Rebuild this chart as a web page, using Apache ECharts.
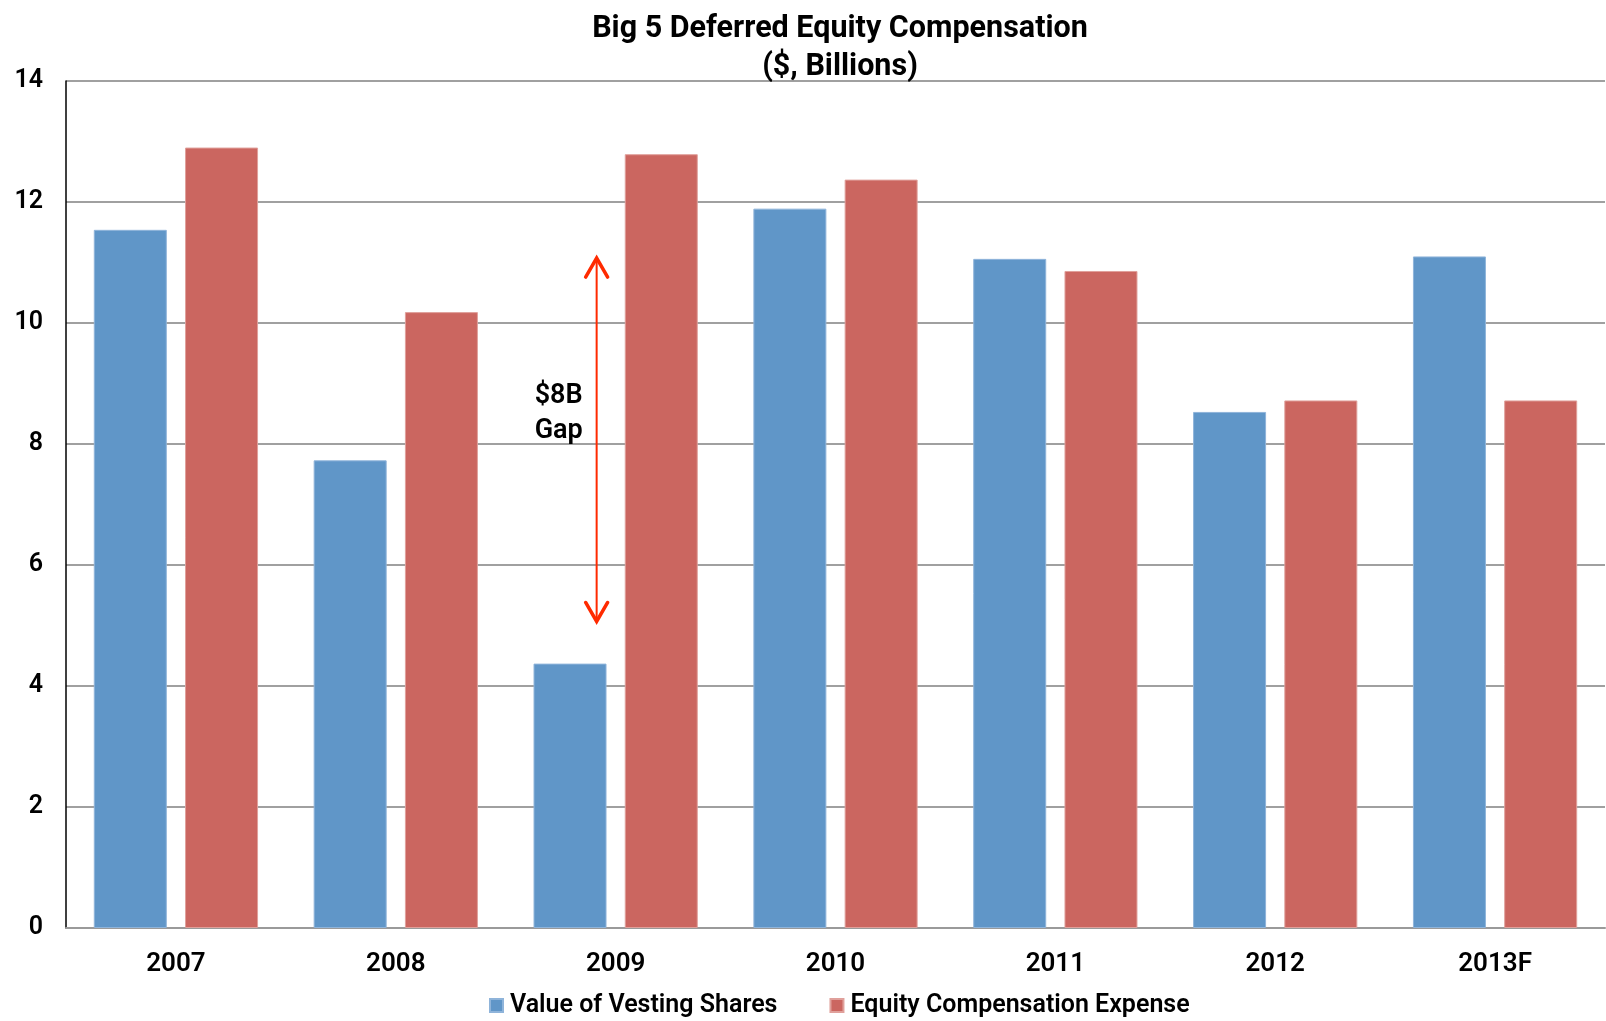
<!DOCTYPE html>
<html>
<head>
<meta charset="utf-8">
<script src="https://cdn.jsdelivr.net/npm/echarts@6/dist/echarts.min.js"></script>
<style>
html,body{margin:0;padding:0;background:#fff;}
#chart{width:1606px;height:1021px;}
</style>
</head>
<body>
<div id="chart"></div>
<script>
const categories = ['2007', '2008', '2009', '2010', '2011', '2012', '2013F'];
const vestingShares = [11.54, 7.73, 4.37, 11.89, 11.06, 8.53, 11.10];
const compExpense = [12.90, 10.18, 12.79, 12.37, 10.86, 8.72, 8.72];
const seriesNames = ['Value of Vesting Shares', 'Equity Compensation Expense'];
const yTicks = { min: 0, max: 14, interval: 2 };
const gapAnnotation = { category: '2009', top: 11.09, bottom: 5.05, lines: ['$8B', 'Gap'] };

const FONT = 'Roboto, "Liberation Sans", sans-serif';
const chart = echarts.init(document.getElementById('chart'));
chart.setOption({
  animation: false,
  backgroundColor: '#ffffff',
  title: {
    text: 'Big 5 Deferred Equity Compensation\n($, Billions)',
    left: 835, textAlign: 'center', top: 5,
    textStyle: { fontFamily: FONT, fontWeight: 700, fontSize: 30.5, color: '#000', lineHeight: 38 }
  },
  legend: {
    data: seriesNames,
    left: 484, top: 988,
    itemWidth: 13, itemHeight: 13, itemGap: 52,
    icon: 'rect',
    textStyle: { fontFamily: FONT, fontWeight: 600, fontSize: 25, color: '#000', padding: [0, 0, 0, 2] }
  },
  grid: { left: 66, right: 1, top: 81, height: 847, containLabel: false },
  xAxis: {
    type: 'category', data: categories,
    axisLine: { lineStyle: { color: '#9a9a9a', width: 2 } },
    axisTick: { show: false },
    axisLabel: { fontFamily: FONT, fontWeight: 600, fontSize: 26, color: '#000', margin: 23 }
  },
  yAxis: {
    type: 'value', min: yTicks.min, max: yTicks.max, interval: yTicks.interval,
    axisLine: { show: true, lineStyle: { color: '#000', width: 1.5 } },
    axisTick: { show: false },
    axisLabel: { fontFamily: FONT, fontWeight: 600, fontSize: 25, color: '#000', margin: 23 },
    splitLine: { lineStyle: { color: '#a0a0a0', width: 2 } }
  },
  series: [
    { name: seriesNames[0], type: 'bar', data: vestingShares, barWidth: 73, barGap: '25%',
      itemStyle: { color: '#6096C8', borderColor: '#8fb4da', borderWidth: 1 } },
    { name: seriesNames[1], type: 'bar', data: compExpense, barWidth: 73,
      itemStyle: { color: '#CB6660', borderColor: '#e0a09b', borderWidth: 1 } }
  ]
});

function drawAnnotation() {
  const pTop = chart.convertToPixel({ gridIndex: 0 }, [gapAnnotation.category, gapAnnotation.top]);
  const pBot = chart.convertToPixel({ gridIndex: 0 }, [gapAnnotation.category, gapAnnotation.bottom]);
  const x = pTop[0] - 19;
  const red = '#ff2a00';
  chart.setOption({
    graphic: [
      { type: 'line', shape: { x1: x, y1: pTop[1] + 2, x2: x, y2: pBot[1] - 2 }, style: { stroke: red, lineWidth: 2 } },
      { type: 'polyline', shape: { points: [[x - 11, pTop[1] + 20], [x, pTop[1] + 1], [x + 11, pTop[1] + 20]] },
        style: { stroke: red, lineWidth: 3.5, fill: null, lineCap: 'round', lineJoin: 'miter' } },
      { type: 'polyline', shape: { points: [[x - 11, pBot[1] - 20], [x, pBot[1] - 1], [x + 11, pBot[1] - 20]] },
        style: { stroke: red, lineWidth: 3.5, fill: null, lineCap: 'round', lineJoin: 'miter' } },
      { type: 'text', left: x - 62, top: (pTop[1] + pBot[1]) / 2 - 61,
        style: { text: gapAnnotation.lines.join('\n'), font: '600 27px ' + FONT, fill: '#000', lineHeight: 35 } }
    ]
  });
}
drawAnnotation();
</script>
</body>
</html>
